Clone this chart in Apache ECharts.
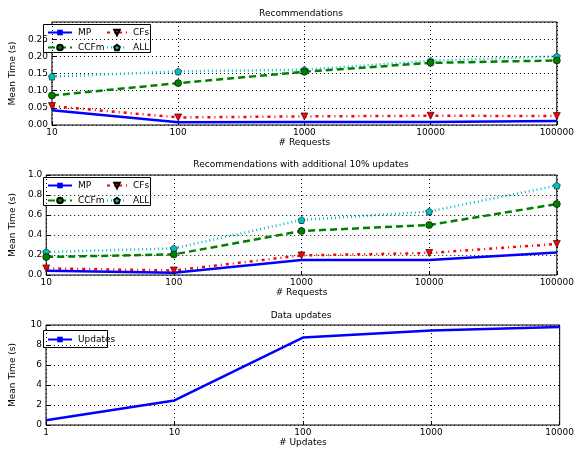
<!DOCTYPE html>
<html>
<head>
<meta charset="utf-8">
<script src="https://cdn.jsdelivr.net/npm/echarts@6/dist/echarts.min.js"></script>
<style>
  html, body { margin: 0; padding: 0; background: #fff; }
  #chart { width: 577px; height: 450px; }
</style>
</head>
<body>
<div id="chart"></div>
<script>
// x positions (log scale)
const requests = [10, 100, 1000, 10000, 100000];
const updates = [1, 10, 100, 1000, 10000];

// Recommendations
const recMP = [0.043, 0.008, 0.009, 0.009, 0.012];
const recCFs = [0.055, 0.022, 0.025, 0.027, 0.026];
const recCCFm = [0.086, 0.122, 0.155, 0.181, 0.188];
const recALL = [0.141, 0.156, 0.161, 0.187, 0.2];

// Recommendations with additional 10% updates
const updMP = [0.043, 0.023, 0.15, 0.15, 0.226];
const updCFs = [0.066, 0.045, 0.196, 0.22, 0.31];
const updCCFm = [0.18, 0.206, 0.44, 0.5, 0.71];
const updALL = [0.23, 0.266, 0.55, 0.635, 0.894];

// Data updates
const dataUpdates = [0.47, 2.46, 8.74, 9.44, 9.8];

const font = "DejaVu Sans";
const pentagon = "path://M0,-10 L9.51,-3.09 L5.88,8.09 L-5.88,8.09 L-9.51,-3.09 Z";
// thin vertical tick used as the legend marker for plain lines
const vbar = "path://M-0.5,-5 L0.5,-5 L0.5,5 L-0.5,5 Z";

const pairs = (xs, ys) => xs.map((x, i) => [x, ys[i]]);

const grids = [
  { left: 41, right: 15, top: 22, height: 103 },
  { left: 41, right: 15, top: 175, height: 100 },
  { left: 41, right: 15, top: 325, height: 100 },
];

const xAxisBase = (idx, min, max, name) => ({
  type: "log",
  logBase: 10,
  gridIndex: idx,
  min: min,
  max: max,
  name: name,
  nameLocation: "middle",
  nameGap: 13,
  nameTextStyle: { fontFamily: font, fontSize: 9, color: "#000" },
  axisLine: { show: false },
  axisTick: { inside: true, length: 4, lineStyle: { color: "#000" } },
  axisLabel: {
    fontFamily: font, fontSize: 9, color: "#000", margin: 3,
    formatter: (v) => String(Math.round(v)),
  },
  splitLine: { show: true, lineStyle: { color: "#000", type: [1, 3], width: 1 } },
  minorTick: { show: false },
});

const yAxisBase = (idx, max, interval, digits) => ({
  type: "value",
  gridIndex: idx,
  min: 0,
  max: max,
  interval: interval,
  name: "Mean Time (s)",
  nameLocation: "middle",
  nameGap: 29,
  nameTextStyle: { fontFamily: font, fontSize: 9, color: "#000" },
  axisLine: { show: false },
  axisTick: { inside: true, length: 4, lineStyle: { color: "#000" } },
  axisLabel: {
    fontFamily: font, fontSize: 9, color: "#000", margin: 4,
    showMaxLabel: idx !== 0,
    formatter: (v) => v.toFixed(digits),
  },
  splitLine: { show: true, lineStyle: { color: "#000", type: [1, 3], width: 1 } },
});

const lineSeries = (name, idx, xs, ys, color, lineType, symbol, extra) => Object.assign({
  name: name,
  type: "line",
  xAxisIndex: idx,
  yAxisIndex: idx,
  data: pairs(xs, ys),
  symbol: symbol,
  symbolSize: 7,
  lineStyle: { color: color, width: 2.5, type: lineType },
  itemStyle: { color: color, borderColor: "#000", borderWidth: 0.6 },
  emphasis: { disabled: true },
  animation: false,
}, extra || {});

const plainLine = { symbolSize: [2, 9], showSymbol: false, itemStyle: { color: "#0000ff", borderWidth: 0 } };

const legendBase = (items, left, top, itemWidth) => ({
  data: items,
  orient: "vertical",
  left: left,
  top: top,
  itemWidth: itemWidth,
  itemHeight: 7,
  itemGap: 6,
  padding: 0,
  textStyle: { fontFamily: font, fontSize: 9, color: "#000", padding: [0, 0, 0, 1] },
  selectedMode: false,
});

const titleBase = (text, top) => ({
  text: text,
  left: 301,
  top: top,
  padding: 0,
  textAlign: "center",
  textStyle: { fontFamily: font, fontSize: 9, fontWeight: "normal", color: "#000" },
});

const option = {
  backgroundColor: "#fff",
  animation: false,
  title: [
    titleBase("Recommendations", 9),
    titleBase("Recommendations with additional 10% updates", 160),
    titleBase("Data updates", 311),
  ],
  grid: grids.map((g) => Object.assign({ show: true, borderColor: "#000", borderWidth: 1, backgroundColor: "transparent" }, g)),
  xAxis: [
    xAxisBase(0, 10, 100000, "# Requests"),
    xAxisBase(1, 10, 100000, "# Requests"),
    xAxisBase(2, 1, 10000, "# Updates"),
  ],
  yAxis: [
    yAxisBase(0, 0.3, 0.05, 2),
    yAxisBase(1, 1.0, 0.2, 1),
    yAxisBase(2, 10, 2, 0),
  ],
  legend: [
    legendBase(["MP", "CCFm"], 47, 28, 24),
    legendBase(["CFs", "ALL"], 106, 28, 20),
    legendBase(["MP", "CCFm"], 47, 181, 24),
    legendBase(["CFs", "ALL"], 106, 181, 20),
    legendBase(["Updates"], 47, 335, 24),
  ],
  graphic: [
    { type: "rect", shape: { x: 43.5, y: 24.5, width: 107, height: 28 }, style: { fill: "#fff", stroke: "#000", lineWidth: 1 }, z: 0 },
    { type: "rect", shape: { x: 43.5, y: 177.5, width: 107, height: 28 }, style: { fill: "#fff", stroke: "#000", lineWidth: 1 }, z: 0 },
    { type: "rect", shape: { x: 43.5, y: 330.5, width: 64, height: 17 }, style: { fill: "#fff", stroke: "#000", lineWidth: 1 }, z: 0 },
  ],
  series: [
    lineSeries("ALL", 0, requests, recALL, "#00bfbf", [1, 3], pentagon),
    lineSeries("CCFm", 0, requests, recCCFm, "#008000", [7, 4], "circle"),
    lineSeries("CFs", 0, requests, recCFs, "#ff0000", [3, 4, 1, 4], "triangle", { symbolRotate: 180 }),
    lineSeries("MP", 0, requests, recMP, "#0000ff", "solid", vbar, plainLine),

    lineSeries("ALL", 1, requests, updALL, "#00bfbf", [1, 3], pentagon),
    lineSeries("CCFm", 1, requests, updCCFm, "#008000", [7, 4], "circle"),
    lineSeries("CFs", 1, requests, updCFs, "#ff0000", [3, 4, 1, 4], "triangle", { symbolRotate: 180 }),
    lineSeries("MP", 1, requests, updMP, "#0000ff", "solid", vbar, plainLine),

    lineSeries("Updates", 2, updates, dataUpdates, "#0000ff", "solid", vbar, plainLine),
  ],
};

const myChart = echarts.init(document.getElementById("chart"), null, { renderer: "canvas" });
option && myChart.setOption(option);
</script>
</body>
</html>
